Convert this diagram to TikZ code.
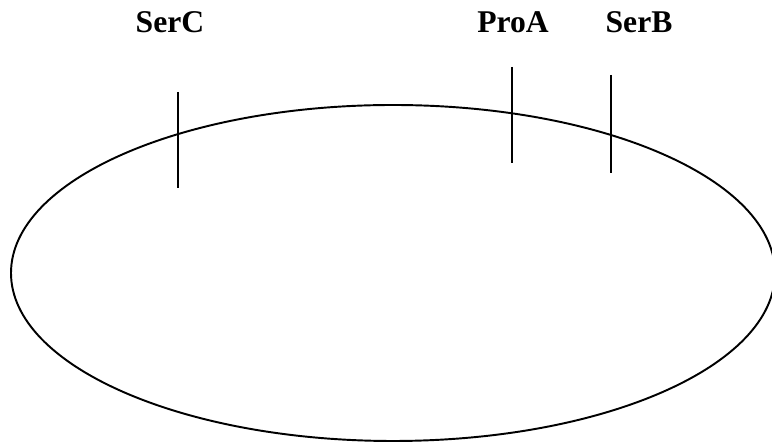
\documentclass[tikz,border=0pt]{standalone}
\usepackage{fontspec}
\setmainfont{Liberation Serif}
\usetikzlibrary{positioning}

\begin{document}
\begin{tikzpicture}[
  font=\bfseries\fontsize{18}{20}\selectfont,
  ring/.style={draw, line width=1.1pt},
  site/.style={draw, line width=1.1pt},
  sitelabel/.style={anchor=base, inner sep=0pt}
]
\useasboundingbox (0,0) rectangle (15.44,8.84);
\clip (0,0) rectangle (15.44,8.84);

% plasmid ring
\draw[ring] (7.86,3.38) ellipse (7.64cm and 3.36cm);

% sites on the ring
\coordinate (serCtop) at (3.56,7.00);
\coordinate (serCbot) at (3.56,5.08);
\coordinate (proAtop) at (10.24,7.50);
\coordinate (proAbot) at (10.24,5.58);
\coordinate (serBtop) at (12.22,7.34);
\coordinate (serBbot) at (12.22,5.38);

\draw[site] (serCtop) -- (serCbot);
\draw[site] (proAtop) -- (proAbot);
\draw[site] (serBtop) -- (serBbot);

\node[sitelabel] (serC) at (3.40,8.18) {SerC};
\node[sitelabel] (proA) at (10.26,8.18) {ProA};
\node[sitelabel] (serB) at (12.78,8.18) {SerB};

\end{tikzpicture}
\end{document}
